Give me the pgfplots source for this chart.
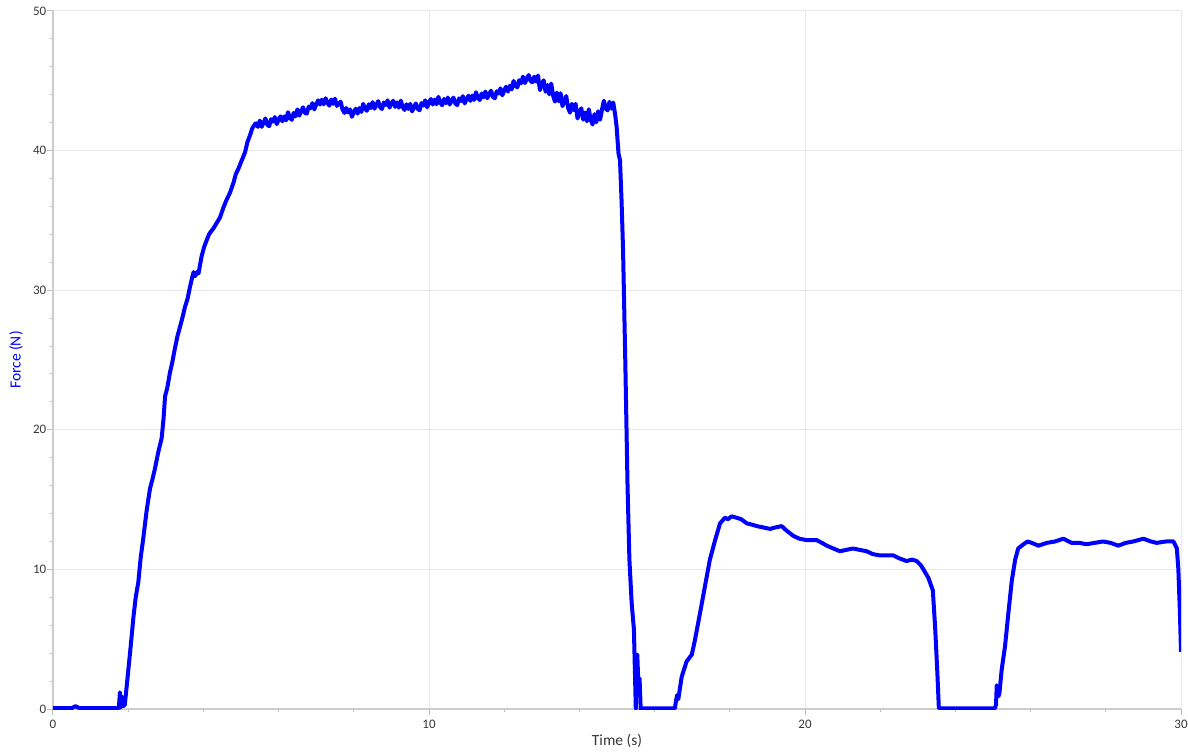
\documentclass[border=0pt]{standalone}
\usepackage{fontspec}
\setmainfont{Carlito}
\usepackage{pgfplots}
\pgfplotsset{compat=1.18}
\definecolor{gridc}{RGB}{232,232,232}
\definecolor{axc}{RGB}{205,205,205}
\definecolor{tickc}{RGB}{190,190,190}
\definecolor{labc}{RGB}{55,55,55}
\definecolor{lineblue}{RGB}{0,0,255}
\begin{document}
\begin{tikzpicture}
\begin{axis}[
  scale only axis,
  width=564pt, height=349pt,
  xmin=0, xmax=30, ymin=0, ymax=50,
  axis lines=left,
  axis line style={-, draw=axc, line width=1pt},
  xtick={0,10,20,30}, ytick={0,10,20,30,40,50},
  minor x tick num=4, minor y tick num=4,
  tick align=outside,
  major tick length=3.2pt, minor tick length=1.7pt,
  tick style={draw=tickc, line width=0.5pt},
  grid=major,
  major grid style={draw=gridc, line width=0.5pt},
  /pgf/number format/assume math mode=true,
  ticklabel style={font=\fontsize{6.5}{8}\selectfont, text=labc},
  yticklabel style={inner sep=0pt, xshift=0pt},
  xticklabel style={inner sep=0pt, yshift=-2pt},
  xlabel={Time (s)},
  ylabel={Force (N)},
  xlabel style={font=\fontsize{7.75}{9}\selectfont, text=labc, at={(axis description cs:0.5,0)}, anchor=center, yshift=-16pt},
  ylabel style={font=\fontsize{7.75}{9}\selectfont, text=lineblue, at={(axis description cs:0,0.5)}, anchor=center, rotate=0, yshift=18.5pt, xshift=0pt},
  clip=true,
]
\coordinate (bl) at (rel axis cs:0,0);
\coordinate (tr) at (rel axis cs:1,1);
\addplot[lineblue, line width=2pt, line join=round] coordinates {
(0,0.07)(0.5,0.07)(0.6,0.2)(0.7,0.07)(1.4,0.07)(1.75,0.05)
(1.78,1.2)(1.80,0.1)(1.83,0.9)(1.86,0.2)(1.91,0.3)(2.00,2.7)(2.07,4.6)(2.14,6.6)(2.20,8.0)(2.27,9.1)(2.33,10.8)(2.40,12.2)(2.49,14.2)(2.58,15.8)(2.64,16.4)(2.71,17.2)(2.80,18.4)(2.89,19.4)(2.94,20.8)(2.98,22.4)(3.04,23.0)(3.11,24.1)(3.17,24.8)(3.24,25.8)(3.31,26.7)(3.38,27.4)(3.44,28.0)(3.51,28.8)(3.58,29.4)(3.64,30.2)(3.70,30.9)(3.74,31.3)(3.78,31.0)(3.83,31.3)(3.87,31.2)(3.95,32.4)(4.02,33.1)(4.09,33.6)(4.15,34.0)(4.20,34.2)(4.26,34.4)(4.35,34.8)(4.44,35.2)(4.53,35.9)(4.62,36.5)(4.71,37.0)(4.80,37.7)(4.86,38.3)(4.93,38.7)(5.02,39.3)(5.11,39.9)(5.17,40.6)(5.24,41.1)(5.30,41.6)(5.37,41.9)
(5.40,41.95)(5.45,41.7)(5.50,42.15)(5.55,41.7)(5.60,42.0)(5.65,42.3)(5.70,41.85)(5.75,41.75)(5.80,42.25)(5.85,42.08)(5.90,42.4)(5.95,41.9)
(6.00,42.2)(6.05,42.45)(6.10,42.1)(6.15,42.45)(6.20,42.17)(6.25,42.75)(6.30,42.33)(6.35,42.2)(6.40,42.7)(6.45,42.45)(6.50,42.95)(6.55,42.5)(6.60,42.82)(6.65,43.1)(6.70,42.7)(6.75,42.65)(6.80,43.15)(6.85,43.03)(6.90,43.4)(6.95,42.95)
(7.00,43.3)(7.05,43.6)(7.10,43.3)(7.15,43.65)(7.20,43.32)(7.25,43.75)(7.30,43.41)(7.35,43.22)(7.40,43.66)(7.45,43.35)(7.50,43.72)(7.55,43.2)(7.60,43.37)(7.65,43.5)(7.70,42.95)(7.75,42.7)(7.80,43.05)(7.85,42.73)(7.90,42.95)(7.95,42.42)
(8.00,42.75)(8.05,43.0)(8.10,42.65)(8.15,43.05)(8.20,42.77)(8.25,43.35)(8.30,42.98)(8.35,42.85)(8.40,43.32)(8.45,43.05)(8.50,43.47)(8.55,43.0)(8.60,43.29)(8.65,43.54)(8.70,43.11)(8.75,42.98)(8.80,43.45)(8.85,43.26)(8.90,43.6)(8.95,43.08)
(9.00,43.4)(9.05,43.57)(9.10,43.13)(9.15,43.45)(9.20,43.08)(9.25,43.58)(9.30,43.13)(9.35,42.91)(9.40,43.32)(9.45,42.99)(9.50,43.35)(9.55,42.81)(9.60,43.1)(9.65,43.38)(9.70,42.99)(9.75,42.89)(9.80,43.4)(9.85,43.23)(9.90,43.6)(9.95,43.1)
(10.00,43.45)(10.05,43.7)(10.10,43.3)(10.15,43.65)(10.20,43.32)(10.25,43.85)(10.30,43.43)(10.35,43.25)(10.40,43.7)(10.45,43.4)(10.50,43.8)(10.55,43.3)(10.60,43.57)(10.65,43.8)(10.70,43.38)(10.75,43.26)(10.80,43.74)(10.85,43.55)(10.90,43.9)(10.95,43.38)
(11.00,43.7)(11.05,43.93)(11.10,43.56)(11.15,43.94)(11.20,43.63)(11.25,44.18)(11.30,43.78)(11.35,43.62)(11.40,44.09)(11.45,43.81)(11.50,44.23)(11.55,43.75)(11.60,44.04)(11.65,44.29)(11.70,43.85)(11.75,43.75)(11.80,44.25)(11.85,44.09)(11.90,44.46)(11.95,43.96)
(12.00,44.31)(12.05,44.57)(12.10,44.23)(12.15,44.65)(12.20,44.39)(12.25,44.99)(12.30,44.64)(12.35,44.53)(12.40,45.05)(12.45,44.82)(12.50,45.3)(12.55,44.84)(12.60,45.14)(12.65,45.41)(12.70,45.0)(12.75,44.89)(12.80,45.3)(12.85,44.94)(12.90,45.38)(12.95,44.33)
(13.00,44.77)(13.05,45.04)(13.10,44.22)(13.15,44.7)(13.20,44.03)(13.25,44.8)(13.30,43.95)(13.35,43.51)(13.40,44.16)(13.45,43.53)(13.50,44.11)(13.55,43.18)(13.60,43.58)(13.65,43.91)(13.70,43.05)(13.75,42.72)(13.80,43.35)(13.85,42.9)(13.90,43.35)(13.95,42.3)
(14.00,42.76)(14.05,43.03)(14.10,42.22)(14.15,42.73)(14.20,42.1)(14.25,42.96)(14.30,42.21)(14.35,41.87)(14.40,42.61)(14.45,42.03)(14.50,42.82)(14.55,42.21)(14.60,42.92)(14.65,43.57)(14.70,43.02)(14.75,42.88)(14.80,43.49)(14.85,43.01)(14.90,43.44)(14.95,42.6)
(14.99,41.7)(15.04,39.8)(15.08,39.3)(15.12,36.5)(15.16,33.0)(15.22,25.0)(15.28,16.0)(15.33,10.7)(15.39,7.6)(15.45,5.7)(15.50,0)(15.52,3.7)(15.54,3.9)(15.57,1.6)(15.60,2.2)(15.63,0)(15.66,0.05)
(16.54,0.05)(16.57,0.6)(16.60,1.0)(16.63,0.7)(16.72,2.3)(16.85,3.4)(16.99,3.9)(17.07,4.9)(17.14,5.9)(17.21,6.9)(17.34,8.8)(17.47,10.7)(17.54,11.4)(17.61,12.1)(17.74,13.3)(17.87,13.7)(17.95,13.6)(18.05,13.8)(18.18,13.7)(18.30,13.6)(18.45,13.3)(18.60,13.2)(18.72,13.1)(18.90,13.0)(19.07,12.9)(19.2,13.0)(19.38,13.1)(19.5,12.8)(19.69,12.4)(19.85,12.2)(20.04,12.1)(20.31,12.1)(20.45,11.9)(20.58,11.7)(20.75,11.5)(20.93,11.3)(21.1,11.4)(21.28,11.5)(21.45,11.4)(21.64,11.3)(21.8,11.1)(21.99,11.0)(22.15,11.0)(22.35,11.0)(22.5,10.8)(22.70,10.6)(22.85,10.7)(22.97,10.6)(23.08,10.3)(23.15,10.0)(23.28,9.4)(23.40,8.5)(23.46,5.9)(23.52,2.6)(23.56,0.05)
(25.05,0.05)(25.08,0.3)(25.10,1.7)(25.14,0.9)(25.17,1.1)(25.23,2.8)(25.32,4.5)(25.41,6.9)(25.50,9.2)(25.59,10.7)(25.67,11.5)(25.81,11.8)(25.92,12.0)(26.03,11.9)(26.21,11.7)(26.43,11.9)(26.65,12.0)(26.87,12.2)(27.09,11.9)(27.3,11.9)(27.49,11.8)(27.7,11.9)(27.93,12.0)(28.13,11.9)(28.33,11.7)(28.53,11.9)(28.73,12.0)(29.0,12.2)(29.2,12.0)(29.35,11.9)(29.6,12.0)(29.80,12.0)(29.89,11.5)(29.93,10.0)(29.97,7.0)(30.0,4.1)
};
\end{axis}
\pgfresetboundingbox
\path ([shift={(-26.5pt,-21pt)}]bl) rectangle ([shift={(3.5pt,5.5pt)}]tr);
\end{tikzpicture}
\end{document}
